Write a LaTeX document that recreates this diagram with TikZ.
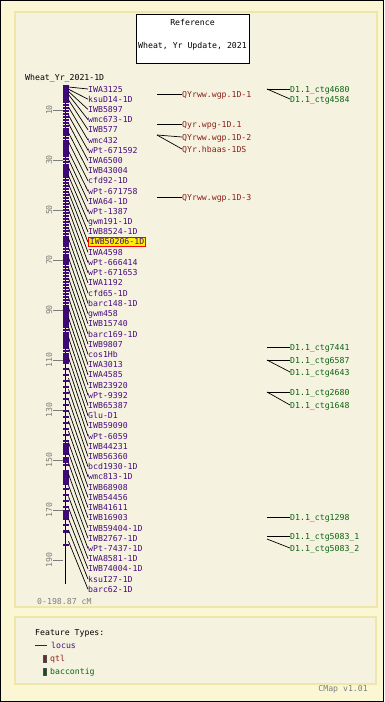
\documentclass[tikz,border=0pt]{standalone}
\usepackage{fontspec}
\newfontfamily\cmapfont{DejaVu Sans Mono}
\usepackage{xcolor}
\definecolor{outerbg}{RGB}{251,247,213}
\definecolor{panelbg}{RGB}{245,243,223}
\definecolor{panelline}{RGB}{238,230,170}
\definecolor{locuscol}{RGB}{72,12,128}
\definecolor{barcol}{RGB}{62,8,118}
\definecolor{qtlcol}{RGB}{140,32,28}
\definecolor{qtlbox}{RGB}{110,45,45}
\definecolor{ctgcol}{RGB}{10,100,20}
\definecolor{ctgbox}{RGB}{20,80,30}
\definecolor{scalecol}{RGB}{125,125,125}
\tikzset{
  txt/.style={font=\cmapfont\fontsize{8.2}{9}\selectfont, inner sep=0pt,
    text height=6pt, text depth=0pt, anchor=west},
  locustext/.style={txt, text=locuscol},
  hilite/.style={locustext, fill=yellow, draw=red, line width=0.8pt,
    inner xsep=1.5pt, inner ysep=1pt, text depth=1pt},
  qtltext/.style={txt, text=qtlcol},
  ctgtext/.style={txt, text=ctgcol},
  scaletext/.style={txt, text=scalecol},
  panel/.style={draw=panelline, fill=panelbg, line width=1.5pt},
  wire/.style={line width=0.7pt}
}

\begin{document}
\begin{tikzpicture}[x=1pt, y=-1pt]
    \useasboundingbox (0,0) rectangle (384,702);
    \fill[outerbg] (0,0) rectangle (384,702);
    \draw[black] (0.5,0.5) rectangle (383.5,701.5);
    \draw[panel] (15,12) rectangle (377,607);
    \draw[panel] (15,617) rectangle (376,684);

    \node[draw, fill=white, line width=0.8pt, minimum width=113pt, minimum height=49pt] (titlebox) at (192.5,38.5) {};
    \node[txt, anchor=center] (reftitle) at (192.5,22) {Reference};
    \node[txt, anchor=center] (mapname) at (192.5,45) {Wheat, Yr Update, 2021};

    \node[txt] (chrname) at (25,77) {Wheat\_Yr\_2021-1D};

    \draw[black, line width=1.5pt] (65.5,85) -- (65.5,584);
    \foreach \y in {86,89,...,362}
        \fill[barcol] (62.5,\y) rectangle (68.5,\y+1.6);
    \foreach \y in {368,374,...,530}
        \fill[barcol] (62.5,\y) rectangle (68.5,\y+1.6);
    \foreach \a/\b in {85/103,128/134,141/155,166/178,236/246,255/265,305/327,332/348,353/362,443/455,457/463,472/485,510/518,530/533,544/546}
        \fill[barcol] (62.5,\a) rectangle (68.5,\b);

    \foreach \c in {10,30,...,190} {
        \draw[scalecol] (53,{85+2.5*\c}) -- (62.5,{85+2.5*\c});
        \node[scaletext, anchor=center, rotate=90] (cm\c) at (49,{85+2.5*\c}) {\c};
    }
    \node[scaletext] (range) at (37,601) {0-198.87 cM};

    \foreach \i/\name/\lag/\sty in {0/IWA3125/2/locustext, 1/ksuD14-1D/10/locustext, 2/IWB5897/18/locustext,
        3/wmc673-1D/25/locustext, 4/IWB577/30/locustext, 5/wmc432/33/locustext, 6/wPt-671592/35/locustext,
        7/IWA6500/37/locustext, 8/IWB43004/38/locustext, 9/cfd92-1D/39/locustext, 10/wPt-671758/40/locustext,
        11/IWA64-1D/42/locustext, 12/wPt-1387/44/locustext, 13/gwm191-1D/46/locustext, 14/IWB8524-1D/48/locustext,
        15/IWB50206-1D/50/hilite, 16/IWA4598/52/locustext, 17/wPt-666414/53/locustext, 18/wPt-671653/54/locustext,
        19/IWA1192/55/locustext, 20/cfd65-1D/55/locustext, 21/barc148-1D/56/locustext, 22/gwm458/56/locustext,
        23/IWB15740/56/locustext, 24/barc169-1D/56/locustext, 25/IWB9807/57/locustext, 26/cos1Hb/57/locustext,
        27/IWA3013/57/locustext, 28/IWA4585/57/locustext, 29/IWB23920/58/locustext, 30/wPt-9392/58/locustext,
        31/IWB65387/58/locustext, 32/Glu-D1/58/locustext, 33/IWB59090/58/locustext, 34/wPt-6059/58/locustext,
        35/IWB44231/57/locustext, 36/IWB56360/57/locustext, 37/bcd1930-1D/56/locustext, 38/wmc813-1D/56/locustext,
        39/IWB68908/56/locustext, 40/IWB54456/55/locustext, 41/IWB41611/55/locustext, 42/IWB16903/55/locustext,
        43/IWB59404-1D/54/locustext, 44/IWB2767-1D/53/locustext, 45/wPt-7437-1D/52/locustext,
        46/IWA8581-1D/51/locustext, 47/IWB74004-1D/50/locustext, 48/ksuI27-1D/49/locustext, 49/barc62-1D/48/locustext} {
        \coordinate (l\i) at (68.5,{89+10.21*\i-\lag});
        \node[\sty] (m\i) at (88,{89+10.21*\i}) {\name};
        \draw[wire] (l\i) -- (m\i.west);
    }

    \coordinate (qa) at (157,94);
    \coordinate (qb) at (157,124);
    \coordinate (qc) at (157,135);
    \coordinate (qd) at (157,197);
    \node[qtltext] (qtl1) at (182,94) {QYrww.wgp.1D-1};
    \node[qtltext] (qtl2) at (182,124) {Qyr.wpg-1D.1};
    \node[qtltext] (qtl3) at (182,137) {QYrww.wgp.1D-2};
    \node[qtltext] (qtl4) at (182,149) {QYr.hbaas-1DS};
    \node[qtltext] (qtl5) at (182,197) {QYrww.wgp.1D-3};
    \draw[wire] (qa) -- (qtl1.west);
    \draw[wire] (qb) -- (qtl2.west);
    \draw[wire] (qc) -- (qtl3.west);
    \draw[wire] (qc) -- (qtl4.west);
    \draw[wire] (qd) -- (qtl5.west);

    \coordinate (ca) at (267,89);
    \coordinate (cb) at (267,347);
    \coordinate (cc) at (267,360);
    \coordinate (cd) at (267,392);
    \coordinate (ce) at (267,517);
    \coordinate (cf) at (267,536);
    \coordinate (cg) at (267,539);
    \node[ctgtext] (ctg1) at (290,89) {D1.1\_ctg4680};
    \node[ctgtext] (ctg2) at (290,99) {D1.1\_ctg4584};
    \node[ctgtext] (ctg3) at (290,347) {D1.1\_ctg7441};
    \node[ctgtext] (ctg4) at (290,360) {D1.1\_ctg6587};
    \node[ctgtext] (ctg5) at (290,372) {D1.1\_ctg4643};
    \node[ctgtext] (ctg6) at (290,392) {D1.1\_ctg2680};
    \node[ctgtext] (ctg7) at (290,405) {D1.1\_ctg1648};
    \node[ctgtext] (ctg8) at (290,517) {D1.1\_ctg1298};
    \node[ctgtext] (ctg9) at (290,536) {D1.1\_ctg5083\_1};
    \node[ctgtext] (ctg10) at (290,548) {D1.1\_ctg5083\_2};
    \draw[wire] (ca) -- (ctg1.west);
    \draw[wire] (ca) -- (ctg2.west);
    \draw[wire] (cb) -- (ctg3.west);
    \draw[wire] (cc) -- (ctg4.west);
    \draw[wire] (cc) -- (ctg5.west);
    \draw[wire] (cd) -- (ctg6.west);
    \draw[wire] (cd) -- (ctg7.west);
    \draw[wire] (ce) -- (ctg8.west);
    \draw[wire] (cf) -- (ctg9.west);
    \draw[wire] (cg) -- (ctg10.west);

    \node[txt] (feat) at (35,632) {Feature Types:};
    \draw[locuscol, line width=1pt] (35,645) -- (47,645);
    \node[locustext] (leglocus) at (51,645) {locus};
    \draw[black!70, fill=qtlbox] (43,655) rectangle (46,662);
    \node[qtltext] (legqtl) at (50,658) {qtl};
    \draw[black!70, fill=ctgbox] (43,668) rectangle (46,675);
    \node[ctgtext] (legctg) at (50,671) {baccontig};
    \node[scaletext, anchor=east] (version) at (368,688) {CMap v1.01};
\end{tikzpicture}
\end{document}
